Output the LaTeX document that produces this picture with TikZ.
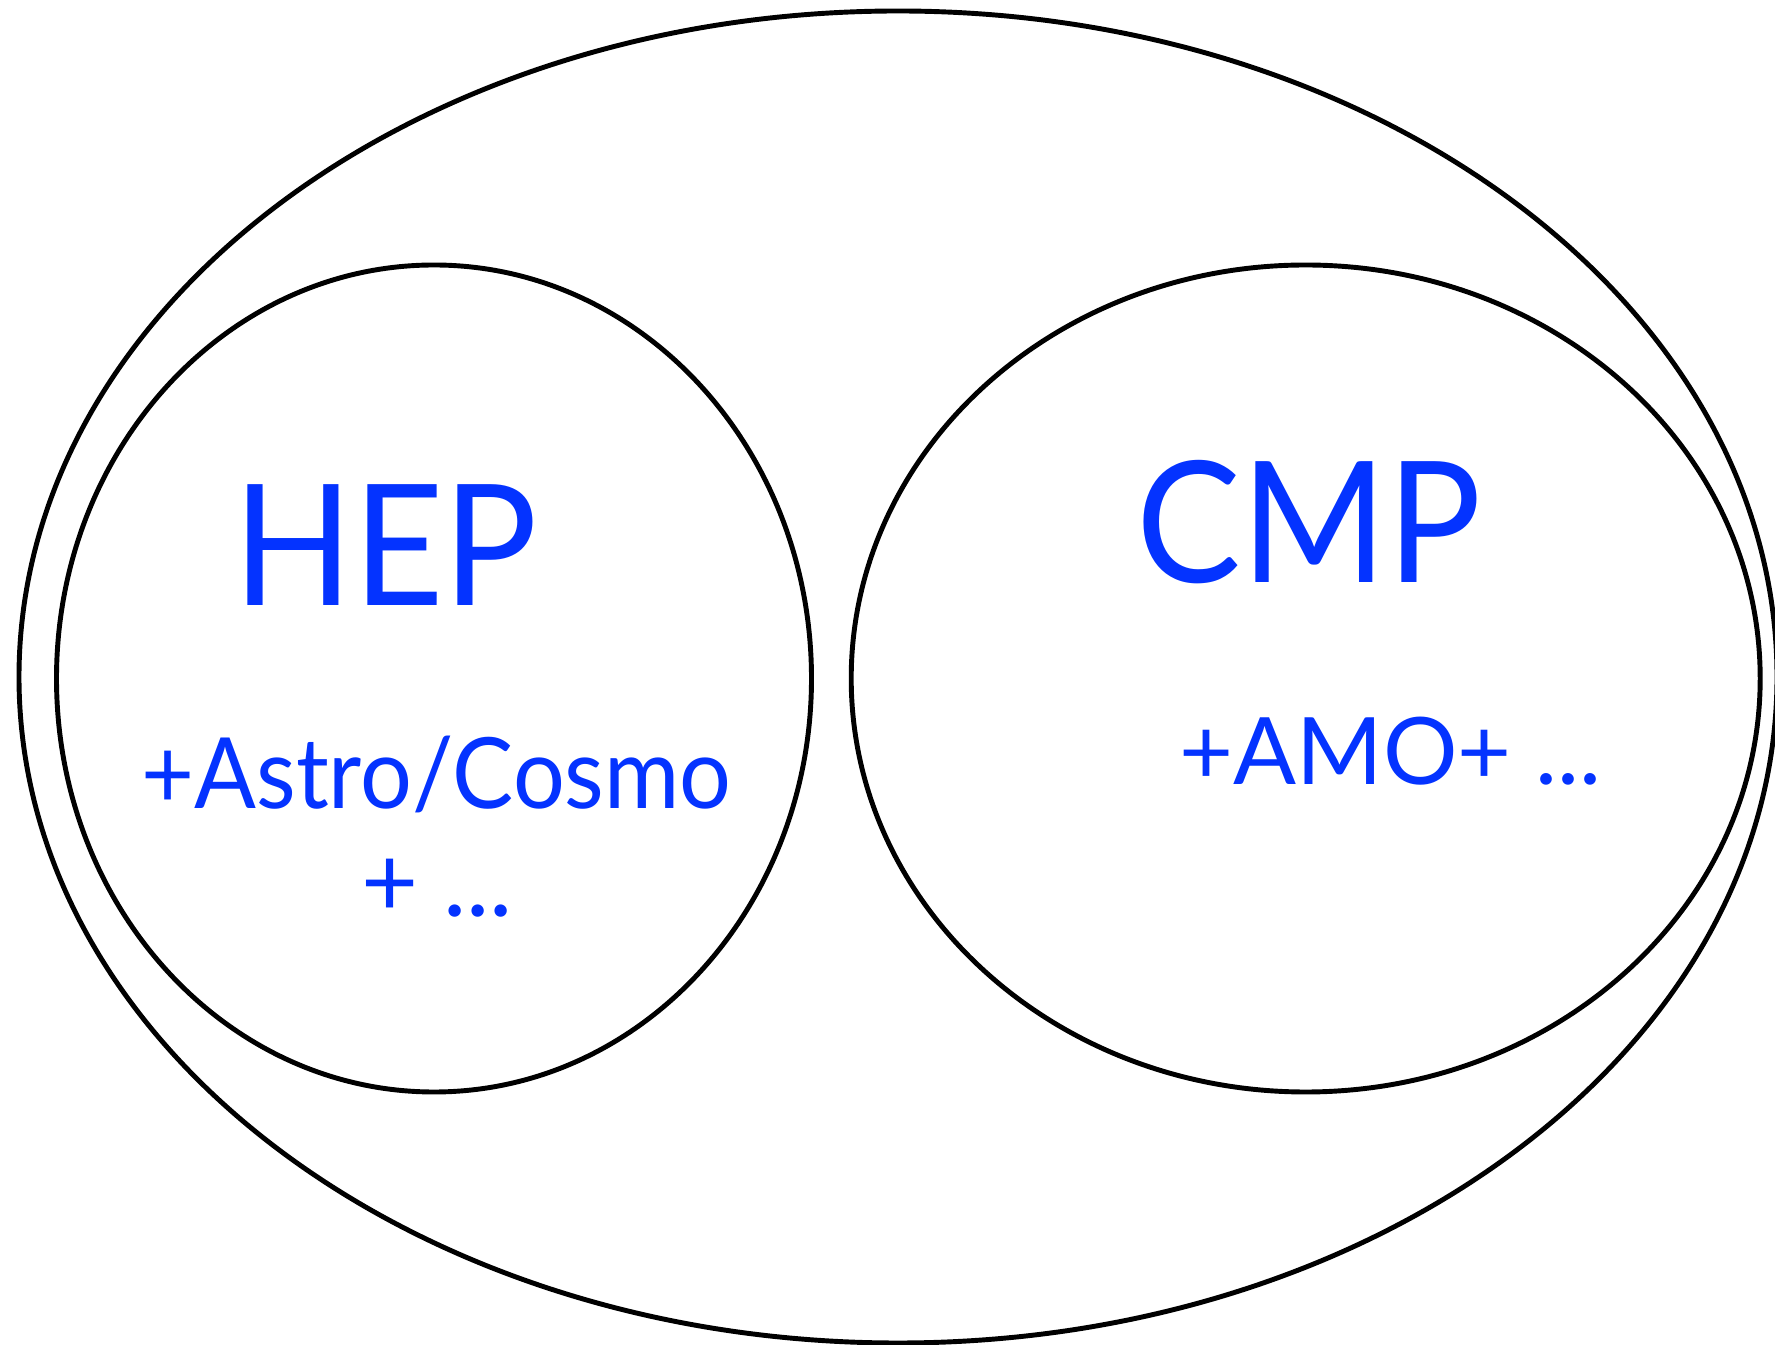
\documentclass[tikz,border=0pt]{standalone}
\usepackage{fontspec}
\setmainfont{Lato}
\usepackage{tikz}
\usetikzlibrary{shapes.geometric}
\definecolor{fieldblue}{RGB}{4,51,255}
\newcommand{\narrowtext}[1]{\scalebox{0.93}[1]{#1}}

\begin{document}
\begin{tikzpicture}[
        ring/.style={ellipse, draw=black, line width=1.4pt, inner sep=0pt},
        bigname/.style={anchor=base, text=fieldblue, inner sep=0pt, font=\fontsize{48}{52}\selectfont},
        extra/.style={anchor=base, text=fieldblue, inner sep=0pt, font=\fontsize{28}{32}\selectfont}
    ]
        % --- CANVAS ---
        \fill[white] (0,0) rectangle (17.75,13.45);
        \useasboundingbox (0,0) rectangle (17.75,13.45);

        % --- RINGS ---
        \node[ring, minimum width=17.58cm, minimum height=13.32cm] (physics) at (8.98,6.68) {};
        \node[ring, minimum width=7.55cm, minimum height=8.27cm] (hep) at (4.34,6.665) {};
        \node[ring, minimum width=9.09cm, minimum height=8.27cm] (cmp) at (13.057,6.665) {};

        % --- LABELS ---
        \node[bigname] (heptitle) at (3.855,7.394) {\narrowtext{HEP}};
        \node[extra] (astro) at (4.365,5.36) {\narrowtext{+Astro/Cosmo}};
        \node[extra] (hepmore) at (4.37,4.28) {+ ...};

        \node[bigname] (cmptitle) at (13.09,7.62) {\narrowtext{CMP}};
        \node[extra, font=\fontsize{26.5}{30}\selectfont] (amo) at (13.905,5.605) {+AMO+ ...};
    \end{tikzpicture}
\end{document}
